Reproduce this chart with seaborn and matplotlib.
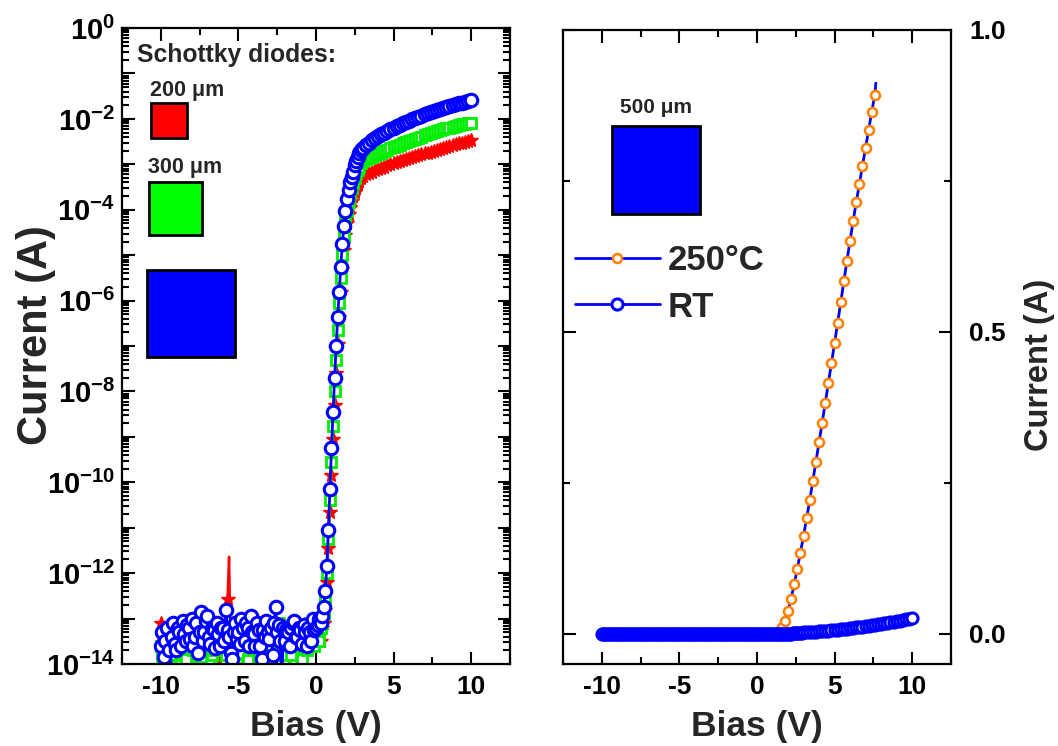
import numpy as np
import matplotlib
matplotlib.use('Agg')
import matplotlib.pyplot as plt
import seaborn as sns
from matplotlib.patches import Rectangle
from matplotlib.ticker import LogLocator, MultipleLocator, NullFormatter

# bias sweep (V), shared by the three diodes at room temperature
bias_v = [
    -10.0, -9.9, -9.8, -9.7, -9.6, -9.5, -9.4, -9.3, -9.2, -9.1,
    -9.0, -8.9, -8.8, -8.7, -8.6, -8.5, -8.4, -8.3, -8.2, -8.1,
    -8.0, -7.9, -7.8, -7.7, -7.6, -7.5, -7.4, -7.3, -7.2, -7.1,
    -7.0, -6.9, -6.8, -6.7, -6.6, -6.5, -6.4, -6.3, -6.2, -6.1,
    -6.0, -5.9, -5.8, -5.7, -5.6, -5.5, -5.4, -5.3, -5.2, -5.1,
    -5.0, -4.9, -4.8, -4.7, -4.6, -4.5, -4.4, -4.3, -4.2, -4.1,
    -4.0, -3.9, -3.8, -3.7, -3.6, -3.5, -3.4, -3.3, -3.2, -3.1,
    -3.0, -2.9, -2.8, -2.7, -2.6, -2.5, -2.4, -2.3, -2.2, -2.1,
    -2.0, -1.9, -1.8, -1.7, -1.6, -1.5, -1.4, -1.3, -1.2, -1.1,
    -1.0, -0.9, -0.8, -0.7, -0.6, -0.5, -0.4, -0.3, -0.2, -0.1, 0.0,
    0.1, 0.2, 0.3, 0.4, 0.5, 0.6, 0.7, 0.8, 0.9, 1.0,
    1.1, 1.2, 1.3, 1.4, 1.5, 1.6, 1.7, 1.8, 1.9, 2.0,
    2.1, 2.2, 2.3, 2.4, 2.5, 2.6, 2.7, 2.8, 2.9, 3.0,
    3.2, 3.4, 3.6, 3.8, 4.0, 4.2, 4.4, 4.6, 4.8, 5.0,
    5.2, 5.4, 5.6, 5.8, 6.0, 6.2, 6.4, 6.6, 6.8, 7.0,
    7.2, 7.4, 7.6, 7.8, 8.0, 8.2, 8.4, 8.6, 8.8, 9.0,
    9.2, 9.4, 9.6, 9.8, 10.0,
]

# log10 of current (A)
log_i_200 = [
    -13.1, -13.3, -13.5, -13.6, -13.3, -13.4, -13.6, -13.5, -13.2, -13.6,
    -13.4, -13.5, -13.7, -13.4, -13.3, -13.6, -13.5, -13.3, -13.2, -13.5,
    -13.6, -13.5, -13.4, -13.3, -13.3, -13.6, -13.7, -13.4, -13.5, -13.6,
    -13.3, -13.5, -13.6, -13.4, -13.4, -13.6, -13.4, -13.5, -14.6, -13.4,
    -13.5, -13.4, -13.3, -12.57, -11.64, -13.6, -13.5, -13.3, -13.4, -13.5,
    -13.5, -13.2, -13.4, -13.6, -13.5, -13.4, -13.3, -13.6, -13.5, -13.3,
    -13.5, -13.6, -13.7, -13.4, -13.3, -13.5, -13.4, -13.6, -13.2, -13.4,
    -13.2, -13.5, -13.5, -13.3, -13.4, -13.6, -13.3, -13.4, -13.3, -13.5,
    -13.6, -13.4, -13.4, -13.3, -13.3, -13.5, -13.5, -13.2, -13.2, -13.6,
    -13.4, -13.3, -13.3, -13.5, -13.5, -13.2, -13.2, -13.4, -13.3, -13.2, -13.2,
    -13.4, -13.3, -13.5, -13.2, -13.1, -12.8, -12.2, -11.45, -10.65, -9.85,
    -9.05, -8.3, -7.6, -6.95, -6.35, -5.8, -5.3, -4.88, -4.55, -4.3,
    -4.1, -3.94, -3.81, -3.7, -3.6, -3.52, -3.44, -3.37, -3.31, -3.25,
    -3.22, -3.19, -3.16, -3.13, -3.10, -3.07, -3.05, -3.02, -3.00, -2.97,
    -2.95, -2.93, -2.90, -2.88, -2.86, -2.84, -2.82, -2.80, -2.78, -2.76,
    -2.74, -2.72, -2.70, -2.68, -2.66, -2.64, -2.62, -2.60, -2.58, -2.56,
    -2.54, -2.52, -2.50, -2.48, -2.46,
]
log_i_300 = [
    -13.6, -13.9, -14.3, -13.5, -13.4, -13.7, -13.8, -14.4, -13.5, -13.6,
    -14.4, -13.5, -13.7, -13.3, -13.3, -13.8, -13.9, -14.3, -13.5, -13.4,
    -14.3, -13.7, -13.6, -13.3, -13.4, -13.9, -13.85, -13.5, -14.5, -13.6,
    -13.5, -13.4, -13.3, -13.8, -13.7, -14.2, -14.2, -13.5, -13.6, -13.7,
    -13.4, -13.6, -13.8, -14.3, -13.25, -13.5, -14.3, -13.7, -13.6, -13.3,
    -13.4, -13.6, -13.75, -14.4, -13.2, -13.5, -13.9, -13.7, -14.4, -13.5,
    -13.5, -13.3, -13.3, -13.8, -13.7, -13.4, -13.2, -14.2, -14.3, -13.5,
    -13.6, -13.7, -13.8, -13.3, -13.4, -13.6, -13.1, -13.5, -14.4, -13.6,
    -13.5, -13.8, -13.3, -14.3, -13.8, -13.6, -13.6, -13.4, -14.3, -13.2,
    -13.5, -13.9, -13.2, -13.4, -13.7, -13.3, -13.1, -13.5, -13.4, -13.6, -13.2,
    -13.3, -13.5, -13.2, -13.1, -12.9, -12.55, -12.0, -11.25, -10.4, -9.55,
    -8.75, -8.0, -7.3, -6.65, -6.05, -5.5, -5.0, -4.6, -4.27, -4.02,
    -3.82, -3.66, -3.53, -3.42, -3.3, -3.2, -3.12, -3.05, -2.98, -2.92,
    -2.89, -2.86, -2.83, -2.80, -2.77, -2.74, -2.71, -2.68, -2.65, -2.62,
    -2.59, -2.57, -2.54, -2.51, -2.49, -2.46, -2.44, -2.41, -2.39, -2.36,
    -2.34, -2.32, -2.29, -2.27, -2.25, -2.23, -2.21, -2.19, -2.17, -2.15,
    -2.14, -2.12, -2.11, -2.10, -2.09,
]
log_i_500 = [
    -13.6, -13.3, -13.85, -13.5, -13.2, -13.7, -14.5, -13.4, -13.1, -13.55,
    -13.7, -13.2, -13.3, -13.6, -13.05, -13.35, -13.5, -13.15, -13.2, -13.45,
    -13.0, -13.6, -13.4, -13.1, -13.75, -13.3, -12.85, -13.5, -13.3, -13.05,
    -12.95, -13.4, -13.55, -13.2, -13.25, -13.65, -13.1, -13.35, -13.6, -13.2,
    -13.2, -13.5, -12.8, -13.25, -13.4, -13.75, -13.9, -13.3, -13.1, -13.45,
    -13.3, -13.55, -13.0, -13.2, -13.5, -13.1, -13.2, -13.6, -12.95, -13.3,
    -13.35, -13.6, -13.1, -13.25, -13.6, -13.9, -13.25, -13.4, -13.05, -13.3,
    -13.45, -13.2, -13.8, -13.1, -12.75, -13.3, -13.15, -13.5, -14.5, -13.2,
    -13.5, -13.25, -13.3, -13.6, -13.2, -13.1, -13.05, -13.4, -13.4, -13.2,
    -13.25, -13.55, -13.15, -13.3, -13.6, -13.2, -13.3, -13.5, -13.0, -13.25, -13.2,
    -13.15, -13.0, -13.1, -12.95, -12.75, -12.4, -11.85, -11.05, -10.15, -9.25,
    -8.45, -7.7, -7.0, -6.35, -5.8, -5.25, -4.75, -4.35, -4.02, -3.77,
    -3.57, -3.4, -3.27, -3.16, -3.02, -2.93, -2.84, -2.76, -2.69, -2.63,
    -2.57, -2.52, -2.47, -2.42, -2.38, -2.34, -2.30, -2.26, -2.22, -2.19,
    -2.16, -2.13, -2.10, -2.07, -2.04, -2.01, -1.98, -1.96, -1.93, -1.90,
    -1.88, -1.85, -1.83, -1.80, -1.78, -1.76, -1.74, -1.72, -1.70, -1.68,
    -1.66, -1.64, -1.62, -1.61, -1.59,
]

# 500 um diode at 250 C (linear current, A)
bias_hot = [
    1.2, 1.4, 1.6, 1.8, 2.0, 2.2, 2.4, 2.6, 2.8, 3.0,
    3.2, 3.4, 3.6, 3.8, 4.0, 4.2, 4.4, 4.6, 4.8, 5.0,
    5.2, 5.4, 5.6, 5.8, 6.0, 6.2, 6.4, 6.6, 6.8, 7.0,
    7.2, 7.4, 7.6, 7.66,
]
i_hot = [
    0.001, 0.004, 0.011, 0.022, 0.038, 0.058, 0.082, 0.108, 0.134, 0.162,
    0.191, 0.221, 0.253, 0.285, 0.317, 0.349, 0.382, 0.415, 0.448, 0.481,
    0.515, 0.549, 0.584, 0.618, 0.651, 0.684, 0.715, 0.745, 0.775, 0.805,
    0.835, 0.865, 0.893, 0.912,
]

log_ticks = [-14, -13, -12, -11, -10, -9, -8, -7, -6, -5, -4, -3, -2, -1, 0]

sns.set_theme(style='ticks')
plt.rcParams['font.family'] = ['Liberation Sans', 'DejaVu Sans']
plt.rcParams['font.weight'] = 'bold'
plt.rcParams['axes.labelweight'] = 'bold'
plt.rcParams['axes.unicode_minus'] = False
plt.rcParams['mathtext.fontset'] = 'custom'
plt.rcParams['mathtext.rm'] = 'Liberation Sans:bold'
plt.rcParams['mathtext.it'] = 'Liberation Sans:bold'
plt.rcParams['mathtext.bf'] = 'Liberation Sans:bold'
plt.rcParams['axes.linewidth'] = 1.6
plt.rcParams['axes.edgecolor'] = 'black'

red, green, blue, orange = '#ff0000', '#00ee00', '#0000ff', '#ff8000'

fig = plt.figure(figsize=(10.58, 7.46), dpi=100)
ax1 = fig.add_axes([0.1153, 0.1099, 0.3667, 0.8525])
ax2 = fig.add_axes([0.5321, 0.1099, 0.3667, 0.8499])

# ---- left panel: log scale, three diode sizes ----
ax1.set_yscale('log')
i_200 = np.power(10.0, log_i_200)
i_300 = np.power(10.0, log_i_300)
i_500 = np.power(10.0, log_i_500)

# the tip of the reverse-bias spike shows no symbol in the original
spike = int(np.argmax(i_200[:101]))
red_marks = [k for k in range(len(bias_v)) if k != spike]

sns.lineplot(x=bias_v, y=i_200, ax=ax1, color=red, lw=1.8, marker='*',
             markersize=10, markerfacecolor=red, markeredgecolor=red,
             markeredgewidth=1, markevery=red_marks, sort=False, estimator=None)
sns.lineplot(x=bias_v, y=i_300, ax=ax1, color=green, lw=1.8, marker='s',
             markersize=7, markerfacecolor='white', markeredgecolor=green,
             markeredgewidth=2, sort=False, estimator=None)
sns.lineplot(x=bias_v, y=i_500, ax=ax1, color=blue, lw=2, marker='o',
             markersize=9, markerfacecolor='white', markeredgecolor=blue,
             markeredgewidth=2.2, sort=False, estimator=None)

ax1.set_xlim(-12.5, 12.5)
ax1.set_ylim(1e-14, 1)
ax1.set_xticks([-10, -5, 0, 5, 10])
ax1.set_xticklabels(['-10', '-5', '0', '5', '10'])
ax1.xaxis.set_minor_locator(MultipleLocator(2.5))
ax1.set_yticks([10.0 ** k for k in log_ticks])
ax1.set_yticklabels(['$10^{%d}$' % k if k % 2 == 0 else '' for k in log_ticks])
ax1.yaxis.set_minor_locator(LogLocator(base=10, subs=np.arange(2, 10), numticks=100))
ax1.yaxis.set_minor_formatter(NullFormatter())
ax1.tick_params(axis='x', labelsize=19, pad=8)
ax1.tick_params(axis='y', labelsize=21, pad=5)
ax1.set_xlabel('Bias (V)', fontsize=25.5, fontweight='bold', labelpad=8)
ax1.set_ylabel('Current (A)', fontsize=30, fontweight='bold')
ax1.yaxis.set_label_coords(-0.17, 0.517)

ax1.text(0.039, 0.9575, 'Schottky diodes:', transform=ax1.transAxes,
         fontsize=17.8, fontweight='bold', ha='left', va='center')
ax1.text(0.072, 0.9025, '200 \u03bcm', transform=ax1.transAxes,
         fontsize=15.5, fontweight='bold', ha='left', va='center')
ax1.text(0.067, 0.7814, '300 \u03bcm', transform=ax1.transAxes,
         fontsize=15.5, fontweight='bold', ha='left', va='center')
for (x0, y0, w, h, c) in [(0.0747, 0.827, 0.0928, 0.055, red),
                          (0.0696, 0.6745, 0.1366, 0.0833, '#00ff00'),
                          (0.0644, 0.4827, 0.2268, 0.1368, blue)]:
    ax1.add_patch(Rectangle((x0, y0), w, h, transform=ax1.transAxes,
                            facecolor=c, edgecolor='black', lw=2, zorder=5))

# ---- right panel: linear scale, 500 um diode ----
sns.lineplot(x=bias_hot, y=i_hot, ax=ax2, color=blue, lw=2, marker='o',
             markersize=6.5, markerfacecolor='white', markeredgecolor=orange,
             markeredgewidth=1.8, markevery=list(range(len(bias_hot) - 1)),
             sort=False, estimator=None)
hot_line = ax2.lines[-1]
sns.lineplot(x=bias_v, y=i_500, ax=ax2, color=blue, lw=2, marker='o',
             markersize=8, markerfacecolor='white', markeredgecolor=blue,
             markeredgewidth=2.2, sort=False, estimator=None)
rt_line = ax2.lines[-1]

ax2.set_xlim(-12.5, 12.5)
ax2.set_ylim(-0.05, 1.0)
ax2.set_xticks([-10, -5, 0, 5, 10])
ax2.set_xticklabels(['-10', '-5', '0', '5', '10'])
ax2.xaxis.set_minor_locator(MultipleLocator(2.5))
ax2.set_yticks([0.0, 0.5, 1.0])
ax2.set_yticklabels(['0.0', '0.5', '1.0'])
ax2.yaxis.set_minor_locator(MultipleLocator(0.25))
ax2.tick_params(axis='x', labelsize=19, pad=8)
ax2.tick_params(axis='y', labelsize=19, pad=13, labelleft=False, labelright=True)
ax2.yaxis.set_label_position('right')
ax2.set_xlabel('Bias (V)', fontsize=25.5, fontweight='bold', labelpad=8)
ax2.set_ylabel('Current (A)', fontsize=23.5, fontweight='bold')
ax2.yaxis.set_label_coords(1.188, 0.472)

ax2.text(0.147, 0.877, '500 \u03bcm', transform=ax2.transAxes,
         fontsize=15, fontweight='bold', ha='left', va='center')
ax2.add_patch(Rectangle((0.1263, 0.7098), 0.2268, 0.1388, transform=ax2.transAxes,
                        facecolor=blue, edgecolor='black', lw=2, zorder=5))
ax2.legend(handles=[hot_line, rt_line], labels=['250\u00b0C', 'RT'],
           loc='upper left', bbox_to_anchor=(0.03, 0.663), frameon=False,
           borderaxespad=0, borderpad=0, handlelength=2.45, handletextpad=0.22,
           labelspacing=0.4, prop={'size': 25, 'weight': 'bold'})

for ax in (ax1, ax2):
    ax.tick_params(which='both', direction='in', top=True, right=True,
                   left=True, bottom=True, width=1.5, colors='black')
    ax.tick_params(which='major', length=9)
    ax.tick_params(which='minor', length=5)
    for s in ax.spines.values():
        s.set_visible(True)
        s.set_color('black')

fig.savefig('out.png', dpi=100)
